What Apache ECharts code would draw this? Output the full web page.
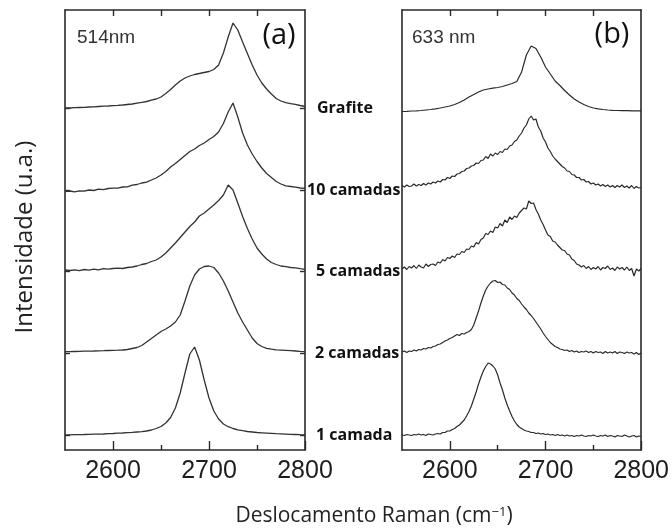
<!DOCTYPE html>
<html>
<head>
<meta charset="utf-8">
<script src="https://cdn.jsdelivr.net/npm/echarts@6/dist/echarts.min.js"></script>
<style>
  html, body { margin: 0; padding: 0; background: #ffffff; }
  #chart { width: 672px; height: 530px; }
</style>
</head>
<body>
<div id="chart"></div>
<script>
// Raman shift sampling grids (cm^-1)
const shift5 = [
  2550, 2555, 2560, 2565, 2570, 2575, 2580, 2585, 2590, 2595,
  2600, 2605, 2610, 2615, 2620, 2625, 2630, 2635, 2640, 2645,
  2650, 2655, 2660, 2665, 2670, 2675, 2680, 2685, 2690, 2695,
  2700, 2705, 2710, 2715, 2720, 2725, 2730, 2735, 2740, 2745,
  2750, 2755, 2760, 2765, 2770, 2775, 2780, 2785, 2790, 2795,
  2800
];
const shift2p5 = [
  2550, 2552.5, 2555, 2557.5, 2560, 2562.5, 2565, 2567.5, 2570, 2572.5,
  2575, 2577.5, 2580, 2582.5, 2585, 2587.5, 2590, 2592.5, 2595, 2597.5,
  2600, 2602.5, 2605, 2607.5, 2610, 2612.5, 2615, 2617.5, 2620, 2622.5,
  2625, 2627.5, 2630, 2632.5, 2635, 2637.5, 2640, 2642.5, 2645, 2647.5,
  2650, 2652.5, 2655, 2657.5, 2660, 2662.5, 2665, 2667.5, 2670, 2672.5,
  2675, 2677.5, 2680, 2682.5, 2685, 2687.5, 2690, 2692.5, 2695, 2697.5,
  2700, 2702.5, 2705, 2707.5, 2710, 2712.5, 2715, 2717.5, 2720, 2722.5,
  2725, 2727.5, 2730, 2732.5, 2735, 2737.5, 2740, 2742.5, 2745, 2747.5,
  2750, 2752.5, 2755, 2757.5, 2760, 2762.5, 2765, 2767.5, 2770, 2772.5,
  2775, 2777.5, 2780, 2782.5, 2785, 2787.5, 2790, 2792.5, 2795, 2797.5,
  2800
];

// Stack order (bottom to top) and vertical offset of each spectrum (u.a.)
const layerNames = ['1 camada', '2 camadas', '5 camadas', '10 camadas', 'Grafite'];
const layerOffsets = [0, 82, 164, 245, 327];

// Axis ticks and labels
const xLabelValues = [2600, 2700, 2800];
const xMajorTicks = [2600, 2700, 2800];
const xMinorTicks = [2650, 2750];
const xTopTicks = [2600, 2650, 2700, 2750];

// 2D band, 514 nm excitation (on shift5)
const l514_1 = [
  0, 0.1, 0.3, 0.4, 0.5, 0.7, 0.8, 0.9, 1, 1.3,
  1.5, 1.8, 2, 2.3, 2.6, 3, 3.4, 4, 5, 6.5,
  8.5, 12, 17.5, 27, 42, 62, 81, 88, 75, 55,
  37, 24, 16, 11, 8.3, 6.5, 5.2, 4.3, 3.5, 3,
  2.5, 2.2, 1.9, 1.6, 1.3, 1.1, 0.9, 0.7, 0.5, 0.3,
  0.2
];
const l514_2 = [
  1.3, 1.4, 1.5, 1.6, 1.8, 1.9, 2, 2.2, 2.3, 2.5,
  2.7, 2.8, 3, 3.5, 4.5, 5.5, 7.5, 11, 14.5, 18,
  21.5, 24, 27, 31, 38, 52, 67, 78, 84, 86.5,
  87, 85.5, 80, 72, 62, 51, 40, 31, 23, 15,
  9.5, 6.5, 4.7, 3.8, 3.2, 2.9, 2.6, 2.3, 2, 1.6,
  1.3
];
const l514_5 = [
  1, 0.5, 1.2, 0.3, 1.5, 0.8, 1.8, 1.2, 2.3, 1.8,
  2.5, 2.8, 2.5, 3.5, 4, 5, 6.5, 7.5, 9.5, 11,
  14, 18, 23, 28, 33.5, 39, 44.5, 49, 55, 58,
  62, 66, 70.5, 76, 86, 81, 68, 54.5, 42.5, 32,
  23, 17, 12, 8.5, 6.5, 5, 4.3, 3.5, 3.2, 2.3,
  1.7
];
const l514_10 = [
  -1.5, -1, -1.8, -0.8, -1.2, 0, -0.5, 0.8, 0.3, 1.5,
  1.8, 1.8, 3, 3.2, 4.8, 5.5, 7, 7.8, 10, 12,
  15, 18.5, 23, 26.5, 30.5, 34.5, 38.5, 41, 44.5, 47,
  50.5, 53.5, 58, 66.5, 78, 87, 73, 57, 45, 36,
  28.5, 22, 16.5, 12.5, 8.5, 6, 4.2, 3.5, 2.8, 2,
  1.7
];
const l514_graf = [
  0, 0, 0.3, 0.5, 0.7, 1, 1.2, 1.5, 1.8, 2,
  2.3, 2.6, 3, 3.5, 4, 4.8, 5.6, 6.5, 7.8, 9,
  11, 14.5, 18.5, 23, 27, 30, 32, 33.5, 34.5, 35.5,
  36.5, 38.5, 43, 55, 71, 85, 78, 66, 54.5, 43,
  33, 25, 19, 14, 9.5, 7, 5.3, 4.3, 3.6, 2.5,
  1.5
];

// 2D band, 633 nm excitation
const l633_1 = [
  0, -0.5, 0.5, 0, -0.5, 0.5, 0, 1, 0, 0.5,
  -0.5, 1, 0.5, 0, 1, 1.5, 1, 2.5, 2.5, 4,
  4, 5.5, 6.5, 8.5, 10, 12.5, 15, 19, 23.5, 29,
  36, 43, 51, 58, 64, 68.5, 72, 71, 69, 66,
  60, 52, 45, 37, 30, 24, 18.5, 14, 10.5, 8,
  6.5, 5, 4, 3.5, 2.5, 2.5, 1.5, 2, 1, 1.5,
  0.5, 1, 0, 0.5, -0.5, 0.5, -0.5, 0, -1, 0,
  -1, -0.5, -1.5, -0.5, -1, 0, -1, -1.5, -0.5, -1,
  0, -1, -1.5, -0.5, -1, 0, -1.5, -0.5, -1, -2,
  -0.5, -1, -1.5, 0, -1, -2, -1, -0.5, -2, -1,
  -1.5
];
const l633_2 = [
  1, 2, 0.5, 2, 1.5, 3, 2, 3.5, 3, 4.5,
  4, 5.5, 5, 6.5, 7, 8.5, 9, 10.5, 12, 13,
  14.5, 15.5, 17, 18.5, 17.5, 19.5, 19, 20.5, 21.5, 23.5,
  28, 35, 42, 50, 57, 63, 67, 70, 72, 72.5,
  70.5, 71, 68.5, 68, 65, 63.5, 60, 58, 54.5, 52.5,
  49, 46, 43.5, 40, 37.5, 34.5, 31, 27.5, 24, 20,
  16.5, 13.5, 10.5, 8.5, 6.5, 5.5, 4, 3.5, 2.5, 3,
  1.5, 2.5, 1, 2, 0.5, 1.5, 1, 2, 0.5, 1.5,
  0, 1.5, 0.5, 1, -0.5, 1.5, 0, 1, 0, 1.5,
  -0.5, 1, 0.5, -0.5, 1, 0, 0.5, -1, 0.5, -1.5,
  0
];
const l633_5 = [
  2, 4, 1.5, 4.5, 3, 5.5, 2.5, 6, 4, 3,
  7, 4.5, 6.5, 7, 5.5, 9, 8, 11.5, 10, 13.5,
  12.5, 15, 13.5, 17, 16.5, 19.5, 18.5, 22, 21.5, 25,
  24, 28.5, 27, 31.5, 33, 37.5, 36.5, 40, 38.5, 44,
  43, 47.5, 45, 51, 48.5, 54, 51.5, 55, 53.5, 58,
  60.5, 63, 62, 70, 67.5, 68, 61.5, 57, 51, 46.5,
  41, 36, 34.5, 30, 29, 26, 23.5, 21, 20.5, 17,
  16, 12, 10.5, 7, 6, 4, 5.5, 2.5, 4.5, 1.5,
  3.5, 2, 4.5, 1, 3.5, 2.5, 5, 1.5, 3, 0.5,
  4, 2, 3.5, 1, 4, 0.5, 2.5, -5, 2, 0,
  2.5
];
const l633_10 = [
  4.5, 3, 5, 3.5, 4, 6, 4, 5.5, 4.5, 6.5,
  5, 7, 6, 8, 7, 9, 8, 10.5, 10, 12.5,
  11.5, 14, 13.5, 16, 16.5, 18.5, 19, 21.5, 22, 24,
  24.5, 27, 26.5, 29.5, 30, 33.5, 31.5, 36, 34, 37,
  35.5, 38.5, 37.5, 41, 40.5, 44, 45, 48.5, 50, 54,
  57, 62, 65, 71, 74, 70, 71, 63, 59, 52,
  48, 42, 38.5, 34, 31, 28.5, 26, 23.5, 22, 19,
  18.5, 15.5, 15, 12.5, 12.5, 10, 10.5, 8, 8.5, 6,
  7, 5, 6, 4, 5.5, 3.5, 5, 3, 4.5, 2.5,
  4.5, 3, 5, 2.5, 4, 2, 4.5, 1.5, 3.5, 2,
  2.5
];
const l633_graf = [
  -3.5, -3.3, -3, -2.8, -2.5, -2, -1.5, -0.8, 0, 1,
  2, 3.5, 5.5, 8, 11, 13.5, 16, 18, 19, 19.8,
  20.5, 21.5, 23, 24.5, 26.5, 36, 53, 62, 59.5, 51,
  41, 34, 27, 22.5, 17.5, 13, 9, 6, 3.5, 1.5,
  0, -0.8, -1.5, -2, -2.3, -2.5, -2.6, -2.7, -2.8, -2.8,
  -2.8
];

const panel514 = [
  { x: shift5, y: l514_1 }, { x: shift5, y: l514_2 }, { x: shift5, y: l514_5 },
  { x: shift5, y: l514_10 }, { x: shift5, y: l514_graf }
];
const panel633 = [
  { x: shift2p5, y: l633_1 }, { x: shift2p5, y: l633_2 }, { x: shift2p5, y: l633_5 },
  { x: shift2p5, y: l633_10 }, { x: shift5, y: l633_graf }
];

const INK = '#2a2a2a';
const TICK_FONT = { fontFamily: 'Liberation Sans', fontSize: 25, color: '#1e1e1e' };

function stacked(spec, k) {
  return spec.x.map((w, i) => [w, spec.y[i] + layerOffsets[k]]);
}

function xAxesFor(gridIndex) {
  return [
    { // bottom: frame, labels, long ticks
      type: 'value', gridIndex, position: 'bottom', min: 2550, max: 2800,
      axisLine: { show: true, onZero: false, lineStyle: { color: INK, width: 1.6 } },
      axisTick: { show: true, inside: true, length: 9, customValues: xMajorTicks,
                  lineStyle: { color: INK, width: 1.4 } },
      axisLabel: { show: true, customValues: xLabelValues, margin: 9,
                   formatter: v => String(v), ...TICK_FONT },
      splitLine: { show: false }
    },
    { // bottom: short intermediate ticks
      type: 'value', gridIndex, position: 'bottom', min: 2550, max: 2800,
      axisLine: { show: false, onZero: false },
      axisTick: { show: true, inside: true, length: 5, customValues: xMinorTicks,
                  lineStyle: { color: INK, width: 1.4 } },
      axisLabel: { show: false },
      splitLine: { show: false }
    },
    { // top frame with ticks
      type: 'value', gridIndex, position: 'top', min: 2550, max: 2800,
      axisLine: { show: true, onZero: false, lineStyle: { color: INK, width: 1.6 } },
      axisTick: { show: true, inside: true, length: 6, customValues: xTopTicks,
                  lineStyle: { color: INK, width: 1.4 } },
      axisLabel: { show: false },
      splitLine: { show: false }
    }
  ];
}

const labelRich = {};
layerNames.forEach((name, i) => {
  labelRich['t' + i] = {
    fontFamily: 'Open Sans', fontWeight: 'bold', fontSize: 16, color: '#111',
    padding: [0, 0, 0, [9, 8, 9, 0, 10][i]]
  };
});

function yAxis(gridIndex, position, withTicks, withLabels) {
  return {
    type: 'value', gridIndex, position, min: -15, max: 425,
    axisLine: { show: true, onZero: false, lineStyle: { color: INK, width: 1.6 } },
    axisTick: { show: withTicks, inside: true, length: 5, customValues: layerOffsets,
                lineStyle: { color: INK, width: 1.4 } },
    axisLabel: withLabels ? {
      show: true, customValues: layerOffsets, margin: 2, align: 'left',
      formatter: v => '{t' + layerOffsets.indexOf(v) + '|' + layerNames[layerOffsets.indexOf(v)] + '}',
      rich: labelRich
    } : { show: false },
    splitLine: { show: false }
  };
}

const series = [];
panel514.forEach((spec, k) => series.push({
  type: 'line', xAxisIndex: 0, yAxisIndex: 0, data: stacked(spec, k),
  symbol: 'none', lineStyle: { color: '#333', width: 1.3 }
}));
panel633.forEach((spec, k) => series.push({
  type: 'line', xAxisIndex: 3, yAxisIndex: 2, data: stacked(spec, k),
  symbol: 'none', lineStyle: { color: '#2a2a2a', width: 1.2 }
}));

const chart = echarts.init(document.getElementById('chart'), null, { renderer: 'canvas' });
chart.setOption({
  animation: false,
  backgroundColor: '#ffffff',
  grid: [
    { left: 65, top: 10, width: 240, height: 440 },
    { left: 402, top: 10, width: 240, height: 440 }
  ],
  xAxis: [...xAxesFor(0), ...xAxesFor(1)],
  yAxis: [
    yAxis(0, 'left', true, false),
    yAxis(0, 'right', true, true),
    yAxis(1, 'left', false, false),
    yAxis(1, 'right', false, false)
  ],
  series,
  graphic: [
    { type: 'text', x: 77, y: 38, style: { text: '514nm', font: '19px "Liberation Sans"', fill: '#333', align: 'left', verticalAlign: 'middle' } },
    { type: 'text', x: 279, y: 36, style: { text: '(a)', font: '29px "Open Sans"', fill: '#111', align: 'center', verticalAlign: 'middle' } },
    { type: 'text', x: 412, y: 38, style: { text: '633 nm', font: '19px "Liberation Sans"', fill: '#333', align: 'left', verticalAlign: 'middle' } },
    { type: 'text', x: 612, y: 35, style: { text: '(b)', font: '29px "Open Sans"', fill: '#111', align: 'center', verticalAlign: 'middle' } },
    { type: 'text', x: 25, y: 237, rotation: Math.PI / 2,
      style: { text: 'Intensidade (u.a.)', font: '24px "Open Sans"', fill: '#222', align: 'center', verticalAlign: 'middle' } },
    { type: 'text', x: 374, y: 516,
      style: { text: 'Deslocamento Raman (cm{sup|−1})', font: '21px "Open Sans"', fill: '#222',
               align: 'center', verticalAlign: 'middle',
               rich: { sup: { fontFamily: 'Open Sans', fontSize: 13, fill: '#222', verticalAlign: 'top', padding: [0, 0, 8, 0] } } } }
  ]
});
</script>
</body>
</html>
